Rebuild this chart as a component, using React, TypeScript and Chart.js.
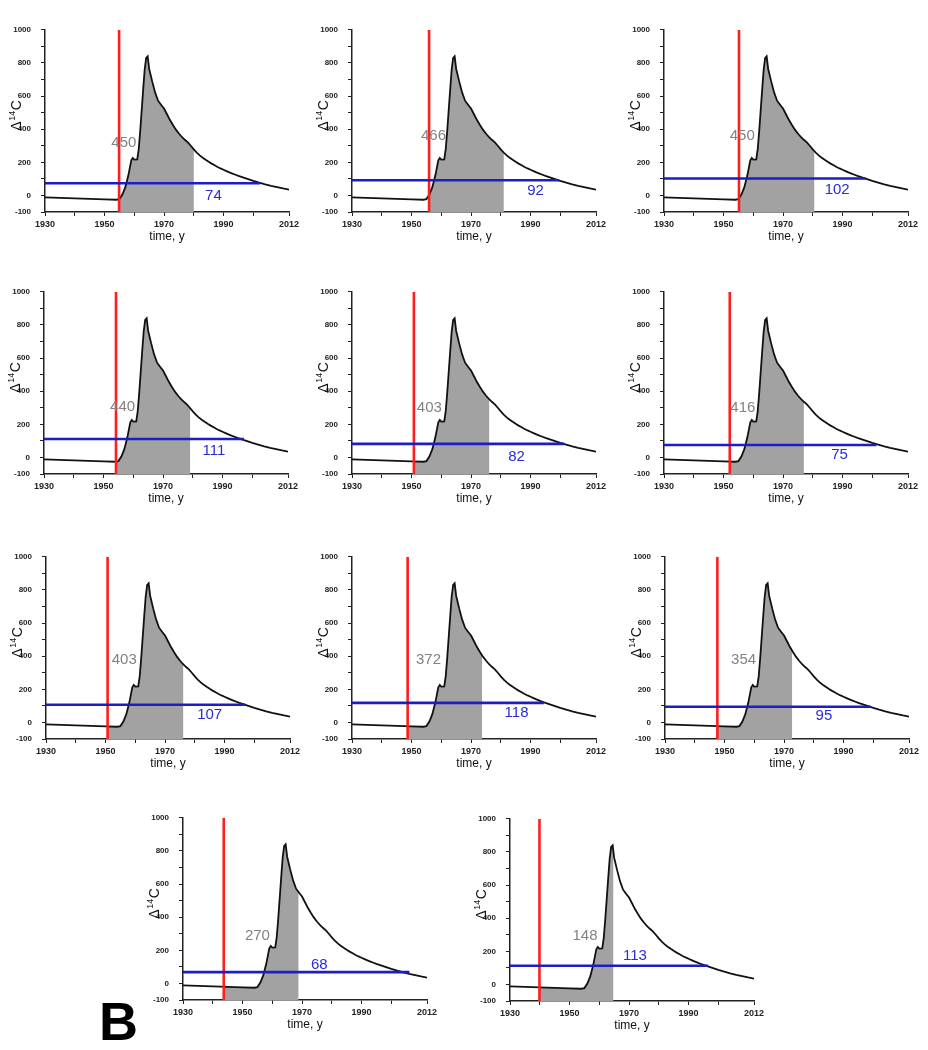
import React, { useEffect, useRef } from 'react';
import { Chart, registerables } from 'chart.js';

// ---- shared atmospheric Δ14C curve ----
const curveYears = [
  1930, 1935, 1940, 1945, 1950, 1954, 1955, 1956, 1957, 1958, 1959, 1959.5, 1960, 1961, 1961.5,
  1962, 1963, 1963.5, 1964, 1964.5, 1965, 1966, 1967, 1968, 1969, 1970, 1971, 1972, 1973, 1974,
  1975, 1976, 1977, 1978, 1979, 1980, 1981, 1982, 1983, 1984, 1985, 1986, 1987, 1988, 1989,
  1990, 1991, 1992, 1993, 1994, 1995, 1996, 1997, 1998, 1999, 2000, 2002, 2004, 2006, 2008,
  2010, 2012,
];
const curveValues = [
  -12, -15, -18, -21, -24, -26, -22, 5, 50, 120, 212, 226, 216, 218, 280,
  390, 640, 760, 830, 840, 765, 690, 622, 572, 548, 525, 490, 455, 425, 397,
  374, 353, 336, 320, 300, 278, 259, 242, 228, 215, 203, 192, 182, 172, 163,
  155, 147, 139, 132, 125, 118, 112, 106, 100, 94, 88, 77, 67, 58, 50,
  42, 35,
];

// ---- per-panel values ----
const redYears = [1954.9, 1955.9, 1955.2, 1954.2, 1950.8, 1952.1, 1950.7, 1948.7, 1947.6, 1943.7, 1939.9];
const greyEnds = [1980.0, 1981.0, 1980.5, 1979.1, 1976.1, 1977.0, 1976.1, 1973.7, 1972.7, 1968.8, 1964.7];
const greyLabels = ['450', '466', '450', '440', '403', '416', '403', '372', '354', '270', '148'];
const blueValues = [74, 92, 102, 111, 82, 75, 107, 118, 95, 68, 113];
const blueEnds = [2002.3, 1999.6, 1997.8, 1997.2, 2001.3, 2001.4, 1997.0, 1994.5, 1999.1, 2006.1, 1996.6];

// ---- axis ticks & titles ----
const xTicks = [1930, 1940, 1950, 1960, 1970, 1980, 1990, 2000, 2012];
const xTickLabels = [1930, 1950, 1970, 1990, 2012];
const yTicks = [-100, 0, 100, 200, 300, 400, 500, 600, 700, 800, 900, 1000];
const yTickLabels = [-100, 0, 200, 400, 600, 800, 1000];
const xTitle = 'time, y';
const yTitleParts = ['Δ', '14', 'C']; // Δ, superscript 14, C

// ---- layout (label anchors in data coords, panel plot positions in px) ----
const greyLabelPos = [
  [1956.5, 320], [1957.4, 358], [1956.3, 358], [1956.4, 303], [1956.0, 302], [1956.5, 297],
  [1956.3, 375], [1955.7, 375], [1956.4, 379], [1955.0, 290], [1955.2, 296],
];
const blueLabelPos = [
  [1986.6, -1], [1991.7, 28], [1988.2, 32], [1987.1, 41], [1985.3, 5], [1989.0, 16],
  [1985.0, 45], [1985.3, 59], [1983.4, 40], [1975.8, 111], [1972.0, 174],
];
const panelPlotPos = [
  [45, 23], [352, 23], [664, 23],
  [44, 285], [352, 285], [664, 285],
  [46, 550], [352, 550], [665, 550],
  [183, 811], [510, 812],
];

const FONT = "'Liberation Sans', Arial, 'DejaVu Sans', sans-serif";
const PLOT_W = 244;
const PLOT_H = 189;
const AXIS_W = 45;
const AXIS_H = 32;
const PAD_T = 8;
const PAD_R = 18;
const PAD_B = 4;

// Clips a chosen dataset (fill included) to an x-range; registered before Filler.
const rangeClip = {
  id: 'rangeClip',
  beforeDatasetDraw(chart: any, args: any, opts: any) {
    if (!opts || opts.datasetIndex !== args.index) return;
    const xs = chart.scales.x;
    const a = xs.getPixelForValue(opts.from);
    const b = xs.getPixelForValue(opts.to);
    const area = chart.chartArea;
    const ctx = chart.ctx;
    ctx.save();
    ctx.beginPath();
    ctx.rect(a, area.top, b - a, area.bottom - area.top);
    ctx.clip();
  },
  afterDatasetDraw(chart: any, args: any, opts: any) {
    if (!opts || opts.datasetIndex !== args.index) return;
    chart.ctx.restore();
  },
};

Chart.register(rangeClip, ...registerables);

function Panel({ i }: { i: number }) {
  const ref = useRef<HTMLCanvasElement>(null);
  const [pl, pt] = panelPlotPos[i];
  const cw = AXIS_W + PLOT_W + PAD_R;
  const ch = PAD_T + PLOT_H + AXIS_H + PAD_B;

  useEffect(() => {
    if (!ref.current) return;
    const curve = curveYears.map((x, k) => ({ x, y: curveValues[k] }));
    const labels = {
      id: 'panelLabels',
      afterDatasetsDraw(chart: any) {
        const { ctx, chartArea } = chart;
        const xs = chart.scales.x;
        const ys = chart.scales.y;
        ctx.save();
        ctx.font = `15px ${FONT}`;
        ctx.textAlign = 'center';
        ctx.textBaseline = 'middle';
        ctx.fillStyle = '#828282';
        ctx.fillText(greyLabels[i], xs.getPixelForValue(greyLabelPos[i][0]), ys.getPixelForValue(greyLabelPos[i][1]));
        ctx.fillStyle = '#2b2bd9';
        ctx.fillText(String(blueValues[i]), xs.getPixelForValue(blueLabelPos[i][0]), ys.getPixelForValue(blueLabelPos[i][1]));
        ctx.restore();

        // rotated y-axis title with superscript
        const big = `14px ${FONT}`;
        const small = `9px ${FONT}`;
        ctx.save();
        ctx.font = big;
        const w0 = ctx.measureText(yTitleParts[0]).width;
        const w2 = ctx.measureText(yTitleParts[2]).width;
        ctx.font = small;
        const w1 = ctx.measureText(yTitleParts[1]).width;
        const total = w0 + w1 + w2 + 1;
        const cx = chartArea.left - 29;
        const cy = chartArea.top + (chartArea.bottom - chartArea.top) * 0.47;
        ctx.translate(cx, cy);
        ctx.rotate(-Math.PI / 2);
        ctx.fillStyle = '#111';
        ctx.textAlign = 'left';
        ctx.textBaseline = 'alphabetic';
        let p = -total / 2;
        ctx.font = big;
        ctx.fillText(yTitleParts[0], p, 5);
        p += w0 + 0.5;
        ctx.font = small;
        ctx.fillText(yTitleParts[1], p, -1);
        p += w1 + 0.5;
        ctx.font = big;
        ctx.fillText(yTitleParts[2], p, 5);
        ctx.restore();
      },
    };
    const chart = new Chart(ref.current, {
      type: 'line',
      data: {
        datasets: [
          {
            data: [{ x: 1930, y: blueValues[i] }, { x: blueEnds[i], y: blueValues[i] }],
            borderColor: '#1d1dc4', borderWidth: 2.6, pointRadius: 0, fill: false, order: 1,
          },
          {
            data: [{ x: redYears[i], y: -100 }, { x: redYears[i], y: 1000 }],
            borderColor: '#ff1e1e', borderWidth: 2.6, pointRadius: 0, fill: false, order: 2,
          },
          {
            data: curve, borderColor: '#111111', borderWidth: 1.8, pointRadius: 0, fill: false, order: 3,
          },
          {
            data: curve, borderColor: 'rgba(0,0,0,0)', borderWidth: 0, backgroundColor: '#a2a2a2',
            pointRadius: 0, fill: 'start', order: 4,
          },
        ],
      } as any,
      options: {
        responsive: false,
        animation: false,
        events: [],
        layout: { padding: { left: 0, top: PAD_T, right: PAD_R, bottom: PAD_B } },
        plugins: {
          legend: { display: false },
          tooltip: { enabled: false },
          rangeClip: { datasetIndex: 3, from: redYears[i], to: greyEnds[i] },
        } as any,
        scales: {
          x: {
            type: 'linear',
            min: 1930,
            max: 2012,
            afterBuildTicks: (s: any) => { s.ticks = xTicks.map((v) => ({ value: v })); },
            afterFit: (s: any) => { s.height = AXIS_H; },
            ticks: {
              autoSkip: false, maxRotation: 0, minRotation: 0, padding: 3,
              font: { family: FONT, size: 9, weight: 'bold' }, color: '#222',
              callback: (v: any) => (xTickLabels.includes(Number(v)) ? String(v) : ''),
            },
            grid: { drawOnChartArea: false, drawTicks: true, tickLength: 4, color: '#222', lineWidth: 1 },
            border: { display: true, color: '#222', width: 1.5 },
            title: { display: true, text: xTitle, font: { family: FONT, size: 12 }, color: '#111', padding: 0 },
          },
          y: {
            type: 'linear',
            min: -100,
            max: 1000,
            afterBuildTicks: (s: any) => { s.ticks = yTicks.map((v) => ({ value: v })); },
            afterFit: (s: any) => { s.width = AXIS_W; },
            ticks: {
              autoSkip: false, padding: 10,
              font: { family: FONT, size: 8, weight: 'bold' }, color: '#222',
              callback: (v: any) => (yTickLabels.includes(Number(v)) ? String(v) : ''),
            },
            grid: { drawOnChartArea: false, drawTicks: true, tickLength: 4, color: '#222', lineWidth: 1 },
            border: { display: true, color: '#222', width: 1.5 },
            title: { display: false },
          },
        },
      } as any,
      plugins: [labels],
    });
    return () => chart.destroy();
  }, [i]);

  return (
    <canvas
      ref={ref}
      width={cw}
      height={ch}
      style={{ position: 'absolute', left: pl - AXIS_W, top: pt - PAD_T, width: cw, height: ch }}
    />
  );
}

export default function App() {
  return (
    <div style={{ position: 'absolute', left: 0, top: 0, width: 928, height: 1050, background: '#fff', overflow: 'hidden' }}>
      {panelPlotPos.map((_, i) => (
        <Panel key={i} i={i} />
      ))}
      <div
        style={{
          position: 'absolute', left: 99, top: 994, font: `bold 54px ${FONT}`, lineHeight: '54px', color: '#000',
        }}
      >
        B
      </div>
    </div>
  );
}
